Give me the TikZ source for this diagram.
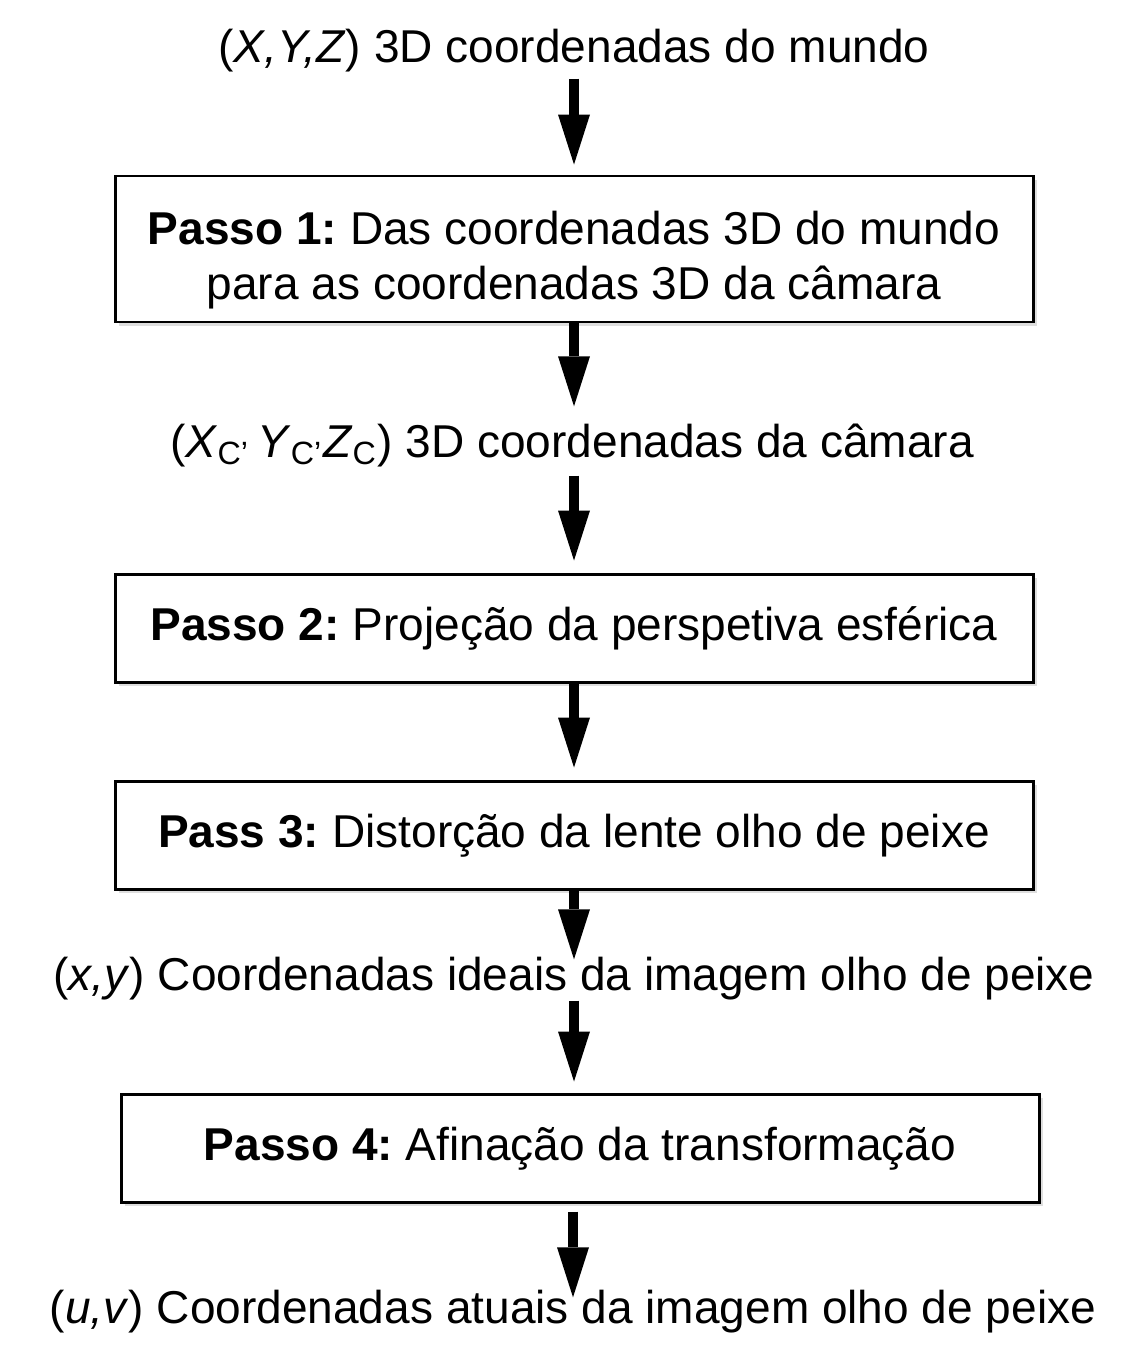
\documentclass[tikz,border=0pt]{standalone}
\usepackage{fontspec}
\setmainfont{Liberation Sans}
\usepackage{tikz}
\usetikzlibrary{arrows.meta,positioning,calc,shadows}
\frenchspacing

\begin{document}
\begin{tikzpicture}[x=0.1mm,y=-0.1mm,
		font=\fontsize{13.1}{15.6}\selectfont,
		txt/.style={inner sep=0pt,anchor=base,text height=3.4mm,text depth=1mm},
		stepbox/.style={draw,line width=0.85pt,fill=white,inner sep=0pt,align=center,
			minimum width=91.8mm,minimum height=10.8mm,text height=3.4mm,text depth=0.9mm,
			drop shadow={shadow xshift=0.35mm,shadow yshift=-0.35mm,fill=black!13,opacity=1}},
		arr/.style={line width=1mm,-{Triangle[width=3.2mm,length=5mm,line width=0pt]}}]
		\useasboundingbox (0,0) rectangle (1129,1364);

		\node[txt] (t1) at (574,62) {(\textit{X,Y,Z}) 3D coordenadas do mundo};
		\node[stepbox,minimum height=14.6mm,text height=10mm,text depth=0mm] (b1) at (574,249) {\textbf{Passo 1:} Das coordenadas 3D do mundo\\para as coordenadas 3D da câmara};
		\node[txt] (t2) at (572,457) {(\textit{X}\textsubscript{C’}\,\textit{Y}\textsubscript{C’}\textit{Z}\textsubscript{C}) 3D coordenadas da câmara};
		\node[stepbox] (b2) at (574,628) {\textbf{Passo 2:} Projeção da perspetiva esférica};
		\node[stepbox] (b3) at (574,835) {\textbf{Pass 3:} Distorção da lente olho de peixe};
		\node[txt] (t3) at (574,990) {(\textit{x,y}) Coordenadas ideais da imagem olho de peixe};
		\node[stepbox] (b4) at (580,1148) {\textbf{Passo 4:} Afinação da transformação};
		\node[txt] (t4) at (573,1323) {(\textit{u,v}) Coordenadas atuais da imagem olho de peixe};

		\draw[arr,shorten <=0.6mm,shorten >=1mm] (t1.south) -- (t1.south |- b1.north);
		\draw[arr,shorten >=1.6mm] (b1.south) -- (b1.south |- t2.north);
		\draw[arr,shorten <=0.8mm,shorten >=1.2mm] (t2.south -| b2.north) -- (b2.north);
		\draw[arr,shorten >=1.2mm] (b2.south) -- (b3.north);
		\draw[arr,shorten >=-0.4mm] (b3.south) -- (b3.south |- t3.north);
		\draw[arr,shorten >=1.1mm] (t3.south) -- (t3.south |- b4.north);
		\draw[arr,shorten <=0.8mm,shorten >=-0.9mm] (b4.south -| t4.north) -- (t4.north);
	\end{tikzpicture}
\end{document}
